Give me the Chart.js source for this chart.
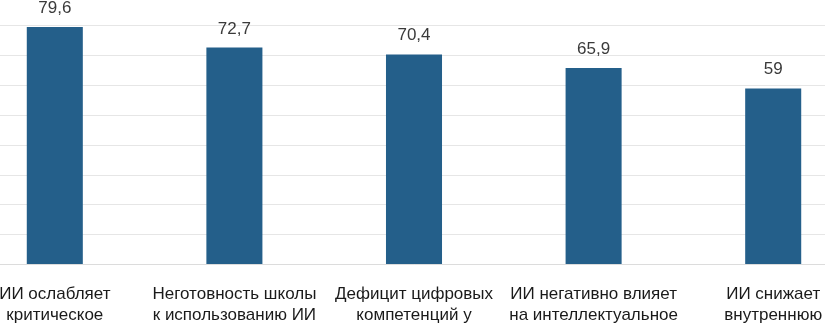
<!DOCTYPE html>
<html>
<head>
<meta charset="utf-8">
<script src="https://cdn.jsdelivr.net/npm/chart.js@4/dist/chart.umd.min.js"></script>
<style>
  html, body { margin: 0; padding: 0; background: #ffffff; }
  #frame { position: relative; width: 825px; height: 325px; overflow: hidden; background: #ffffff; }
  #wrap { position: absolute; left: -35px; top: -4px; width: 898px; height: 349px; }
</style>
</head>
<body>
<div id="frame"><div id="wrap"><canvas id="c" width="898" height="349"></canvas></div></div>
<script>
const categories = [
  ["ИИ ослабляет", "критическое"],
  ["Неготовность школы", "к использованию ИИ"],
  ["Дефицит цифровых", "компетенций у"],
  ["ИИ негативно влияет", "на интеллектуальное"],
  ["ИИ снижает", "внутреннюю"]
];
const values = [79.6, 72.7, 70.4, 65.9, 59];
const yTicks = [0, 10, 20, 30, 40, 50, 60, 70, 80, 90];

const valueLabels = {
  id: 'valueLabels',
  afterDatasetsDraw(chart) {
    const ctx = chart.ctx;
    const meta = chart.getDatasetMeta(0);
    ctx.save();
    ctx.font = '17px "Liberation Sans", Arial, sans-serif';
    ctx.fillStyle = '#3a3a3a';
    ctx.textAlign = 'center';
    ctx.textBaseline = 'alphabetic';
    meta.data.forEach((bar, i) => {
      const txt = String(chart.data.datasets[0].data[i]).replace('.', ',');
      ctx.fillText(txt, bar.x, bar.y - 14);
    });
    ctx.restore();
  }
};

new Chart(document.getElementById('c'), {
  type: 'bar',
  data: {
    labels: categories,
    datasets: [{
      data: values,
      backgroundColor: '#245f8a',
      borderWidth: 0,
      barPercentage: 0.312,
      categoryPercentage: 1
    }]
  },
  options: {
    responsive: false,
    animation: false,
    devicePixelRatio: 1,
    layout: { padding: { top: 0, bottom: 0, left: 0, right: 0 } },
    plugins: { legend: { display: false }, tooltip: { enabled: false } },
    scales: {
      x: {
        grid: { display: false, drawTicks: false },
        border: { display: true, color: '#dcdcdc' },
        ticks: {
          padding: 19,
          maxRotation: 0,
          autoSkip: false,
          color: '#1a1a1a',
          font: { family: '"Liberation Sans", Arial, sans-serif', size: 17, lineHeight: 1.25 }
        }
      },
      y: {
        min: yTicks[0],
        max: yTicks[yTicks.length - 1],
        afterBuildTicks(axis) { axis.ticks = yTicks.map(v => ({ value: v })); },
        grid: { color: '#e6e6e6', lineWidth: 1, drawTicks: false },
        border: { display: false },
        ticks: { display: false }
      }
    }
  },
  plugins: [valueLabels]
});
</script>
</body>
</html>
